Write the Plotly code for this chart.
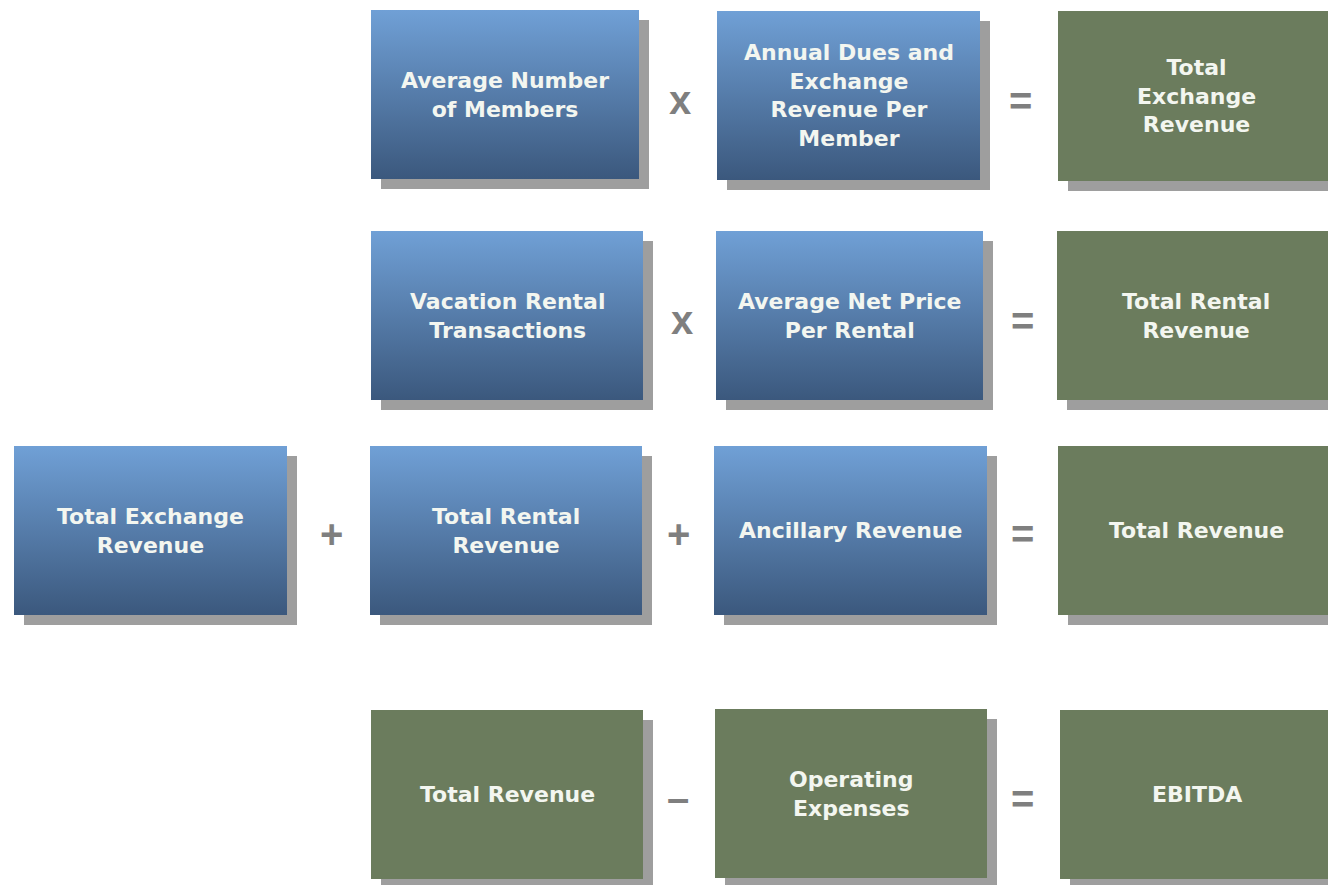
import plotly.graph_objects as go

# ---- content (data) ----
box_labels = [
    "Average Number<br>of Members",
    "Annual Dues and<br>Exchange<br>Revenue Per<br>Member",
    "Total<br>Exchange<br>Revenue",
    "Vacation Rental<br>Transactions",
    "Average Net Price<br>Per Rental",
    "Total Rental<br>Revenue",
    "Total Exchange<br>Revenue",
    "Total Rental<br>Revenue",
    "Ancillary Revenue",
    "Total Revenue",
    "Total Revenue",
    "Operating<br>Expenses",
    "EBITDA",
]
box_kinds = ["blue", "blue", "green",
             "blue", "blue", "green",
             "blue", "blue", "blue", "green",
             "green", "green", "green"]
operator_symbols = ["x", "=", "x", "=", "+", "+", "=", "–", "="]

# ---- layout (pixel geometry in page coordinates, y downward) ----
box_rects = [
    (371, 639, 10, 179), (717, 980, 11, 180), (1058, 1336, 11, 181),
    (371, 643, 231, 400), (716, 983, 231, 400), (1057, 1336, 231, 400),
    (14, 287, 446, 615), (370, 642, 446, 615), (714, 987, 446, 615), (1058, 1336, 446, 615),
    (371, 643, 710, 879), (715, 987, 709, 878), (1060, 1336, 710, 879),
]
operator_pos = [(680, 100), (1020, 101), (682, 320), (1022, 321),
                (331, 534), (678, 534), (1022, 534), (678, 798), (1022, 799)]

SHADOW = 10
BLUE_TOP = "#70a0d6"
BLUE_BOT = "#3b587d"
GREEN = "#6b7c5d"
SHADOW_COL = "#9e9e9e"
TEXT_COL = "#f3f6f0"
OP_COL = "#7f7f7f"
FONT = "DejaVu Sans, Verdana, sans-serif"
OP_FONT = "Liberation Sans, Arial, sans-serif"

fig = go.Figure()

def rect_xy(x0, x1, y0, y1):
    return [x0, x1, x1, x0, x0], [y0, y0, y1, y1, y0]

# shadows
for (x0, x1, y0, y1) in box_rects:
    xs, ys = rect_xy(x0 + SHADOW, x1 + SHADOW, y0 + SHADOW, y1 + SHADOW)
    fig.add_trace(go.Scatter(x=xs, y=ys, mode="lines", fill="toself",
                             fillcolor=SHADOW_COL, line=dict(width=0),
                             hoverinfo="skip", showlegend=False))

# boxes
for (x0, x1, y0, y1), kind, label in zip(box_rects, box_kinds, box_labels):
    xs, ys = rect_xy(x0, x1, y0, y1)
    if kind == "blue":
        fig.add_trace(go.Scatter(
            x=xs, y=ys, mode="lines", fill="toself",
            fillgradient=dict(type="vertical", start=y0, stop=y1,
                              colorscale=[[0, BLUE_TOP], [1, BLUE_BOT]]),
            line=dict(width=0), hoverinfo="skip", showlegend=False))
    else:
        fig.add_trace(go.Scatter(x=xs, y=ys, mode="lines", fill="toself",
                                 fillcolor=GREEN, line=dict(width=0),
                                 hoverinfo="skip", showlegend=False))
    cx = (x0 + x1) / 2 if x1 < 1330 else (x0 + 1334) / 2
    fig.add_annotation(x=cx, y=(y0 + y1) / 2, text="<b>" + label + "</b>",
                       showarrow=False, xanchor="center", yanchor="middle",
                       font=dict(family=FONT, size=22, color=TEXT_COL))

for sym, (x, y) in zip(operator_symbols, operator_pos):
    fig.add_annotation(x=x, y=y, text="<b>" + sym + "</b>", showarrow=False,
                       xanchor="center", yanchor="middle",
                       font=dict(family=OP_FONT, size=40, color=OP_COL))

fig.update_layout(
    width=1328, height=885,
    margin=dict(l=0, r=0, t=0, b=0),
    paper_bgcolor="white", plot_bgcolor="white",
    hovermode=False,
    xaxis=dict(range=[0, 1328], visible=False, fixedrange=True),
    yaxis=dict(range=[885, 0], visible=False, fixedrange=True),
)

fig.write_html(
    "out.html",
    config={"displayModeBar": False, "staticPlot": True},
    post_script="document.body.style.margin='0';"
                "document.body.style.overflow='hidden';",
)
